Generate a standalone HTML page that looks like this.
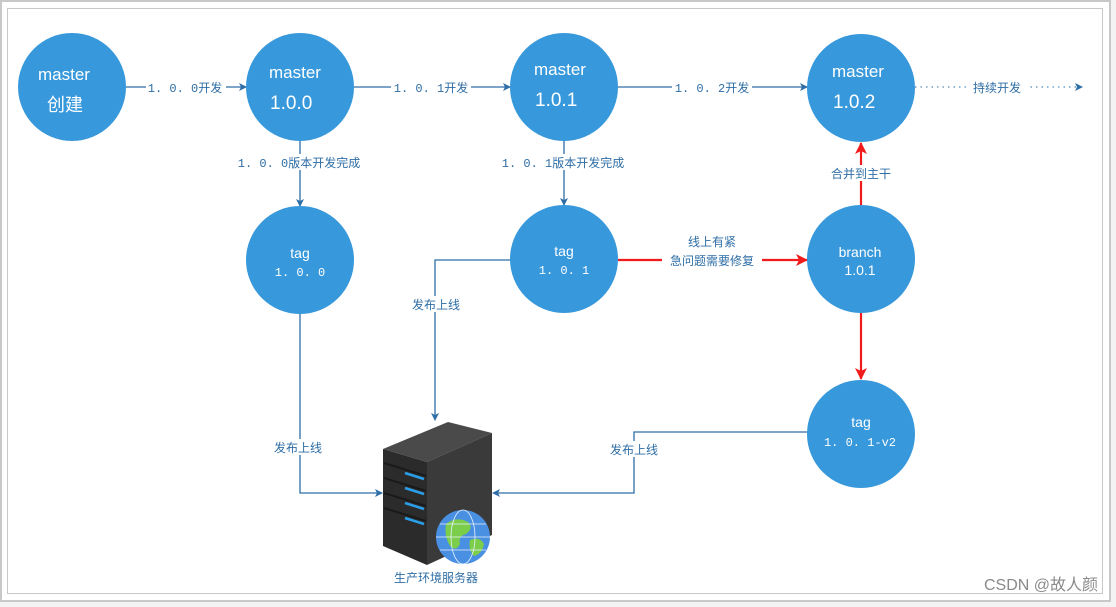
<!DOCTYPE html>
<html><head><meta charset="utf-8"><style>
body{margin:0;background:#fff;}
svg{display:block;}
.w{fill:#fff;font-family:"Liberation Sans","Noto Sans CJK SC",sans-serif;}
.l{fill:#2f6ea5;font-family:"Liberation Mono","Noto Sans CJK SC",monospace;font-size:12px;}
</style></head><body>
<svg width="1116" height="607" viewBox="0 0 1116 607">
<defs>
<marker id="a" markerWidth="8" markerHeight="8" refX="7" refY="4" orient="auto" markerUnits="userSpaceOnUse"><path d="M0,0 L8,4 L0,8 L2,4z" fill="#2d6ea6"/></marker>
<marker id="r" markerWidth="12" markerHeight="12" refX="11" refY="6" orient="auto" markerUnits="userSpaceOnUse"><path d="M0,0 L12,6 L0,12 L3,6z" fill="#f21b1b"/></marker>
</defs>
<rect x="0" y="0" width="1116" height="607" fill="#f3f3f3"/>
<rect x="1" y="1" width="1109" height="600" fill="#fff" stroke="#c8c8c8" stroke-width="2"/>
<rect x="7.5" y="8.5" width="1095" height="585" fill="#fff" stroke="#c8c8c8" stroke-width="1"/>

<g stroke="#2d6ea6" stroke-width="1.3" fill="none">
<line x1="126" y1="87" x2="246" y2="87" marker-end="url(#a)"/>
<line x1="354" y1="87" x2="510" y2="87" marker-end="url(#a)"/>
<line x1="618" y1="87" x2="807" y2="87" marker-end="url(#a)"/>
<line x1="915" y1="87" x2="1082" y2="87" stroke-dasharray="1.5,4" stroke-width="1" marker-end="url(#a)"/>
<line x1="300" y1="141" x2="300" y2="206" marker-end="url(#a)"/>
<line x1="564" y1="141" x2="564" y2="205" marker-end="url(#a)"/>
<polyline points="511,260 435,260 435,420" marker-end="url(#a)"/>
<polyline points="300,314 300,493 382,493" marker-end="url(#a)"/>
<polyline points="808,432 634,432 634,493 493,493" marker-end="url(#a)"/>
</g>
<g stroke="#f21b1b" stroke-width="2.2" fill="none">
<line x1="618" y1="260" x2="807" y2="260" marker-end="url(#r)"/>
<line x1="861" y1="205" x2="861" y2="143" marker-end="url(#r)"/>
<line x1="861" y1="313" x2="861" y2="379" marker-end="url(#r)"/>
</g>

<g fill="#3798db">
<circle cx="72" cy="87" r="54"/>
<circle cx="300" cy="87" r="54"/>
<circle cx="564" cy="87" r="54"/>
<circle cx="861" cy="88" r="54"/>
<circle cx="300" cy="260" r="54"/>
<circle cx="564" cy="259" r="54"/>
<circle cx="861" cy="259" r="54"/>
<circle cx="861" cy="434" r="54"/>
</g>

<g class="w" font-size="17">
<text x="38" y="80">master</text><text x="47" y="111" font-size="18">创建</text>
<text x="269" y="78">master</text><text x="270" y="109" font-size="19">1.0.0</text>
<text x="534" y="75">master</text><text x="535" y="106" font-size="19">1.0.1</text>
<text x="832" y="77">master</text><text x="833" y="108" font-size="19">1.0.2</text>
<text x="300" y="258" font-size="14" text-anchor="middle">tag</text>
<text x="564" y="256" font-size="14" text-anchor="middle">tag</text>
<text x="860" y="257" font-size="14" text-anchor="middle">branch</text>
<text x="860" y="275" font-size="14" text-anchor="middle">1.0.1</text>
<text x="861" y="427" font-size="14" text-anchor="middle">tag</text>
</g>
<g class="w" font-size="12" style="font-family:'Liberation Mono',monospace">
<text x="300" y="276" text-anchor="middle">1. 0. 0</text>
<text x="564" y="274" text-anchor="middle">1. 0. 1</text>
<text x="860" y="446" text-anchor="middle">1. 0. 1-v2</text>
</g>

<g class="l">
<rect x="146" y="79" width="80" height="16" fill="#fff"/><text x="185" y="92" text-anchor="middle">1. 0. 0开发</text>
<rect x="391" y="79" width="80" height="16" fill="#fff"/><text x="431" y="92" text-anchor="middle">1. 0. 1开发</text>
<rect x="672" y="79" width="80" height="16" fill="#fff"/><text x="712" y="92" text-anchor="middle">1. 0. 2开发</text>
<rect x="966" y="79" width="62" height="16" fill="#fff"/><text x="997" y="92" text-anchor="middle">持续开发</text>
<rect x="233" y="154" width="132" height="16" fill="#fff"/><text x="299" y="167" text-anchor="middle">1. 0. 0版本开发完成</text>
<rect x="497" y="154" width="132" height="16" fill="#fff"/><text x="563" y="167" text-anchor="middle">1. 0. 1版本开发完成</text>
<rect x="406" y="296" width="60" height="16" fill="#fff"/><text x="436" y="309" text-anchor="middle">发布上线</text>
<rect x="268" y="439" width="60" height="16" fill="#fff"/><text x="298" y="452" text-anchor="middle">发布上线</text>
<rect x="604" y="441" width="60" height="16" fill="#fff"/><text x="634" y="454" text-anchor="middle">发布上线</text>
<rect x="824" y="165" width="74" height="16" fill="#fff"/><text x="861" y="178" text-anchor="middle">合并到主干</text>
<text x="712" y="246" text-anchor="middle">线上有紧</text>
<rect x="662" y="252" width="100" height="16" fill="#fff"/><text x="712" y="265" text-anchor="middle">急问题需要修复</text>
<text x="436" y="582" text-anchor="middle">生产环境服务器</text>
</g>

<g>
<polygon points="383,449 448,422 492,433 427,462" fill="#4a4a4a"/>
<polygon points="383,449 427,462 427,565 383,546" fill="#2b2b2b"/>
<polygon points="427,462 492,433 492,535 427,565" fill="#3a3a3a"/>
<g stroke="#1a1a1a" stroke-width="2">
<line x1="384" y1="463" x2="426" y2="476"/><line x1="384" y1="478" x2="426" y2="491"/>
<line x1="384" y1="493" x2="426" y2="506"/><line x1="384" y1="508" x2="426" y2="521"/>
</g>
<g stroke="#2a9ee8" stroke-width="2.5">
<line x1="405" y1="473" x2="424" y2="479"/><line x1="405" y1="488" x2="424" y2="494"/>
<line x1="405" y1="503" x2="424" y2="509"/><line x1="405" y1="518" x2="424" y2="524"/>
</g>
<circle cx="463" cy="537" r="27" fill="#4a90e2"/>
<path d="M446,524 q10,-8 22,-2 q6,6 -2,12 q-8,2 -6,10 q-4,8 -10,2 q-6,-10 -4,-22z M470,540 q10,-4 14,4 q-2,10 -10,12 q-6,-6 -4,-16z" fill="#7ccd4a"/>
<g stroke="#e8f2ff" stroke-width="0.8" fill="none"><ellipse cx="463" cy="537" rx="12" ry="27"/><line x1="436" y1="537" x2="490" y2="537"/><line x1="440" y1="524" x2="486" y2="524"/><line x1="440" y1="550" x2="486" y2="550"/></g>
</g>

<text x="1098" y="590" text-anchor="end" fill="#8a8a8a" font-size="16" font-family="Liberation Sans,'Noto Sans CJK SC',sans-serif">CSDN @故人颜</text>
</svg>
</body></html>
